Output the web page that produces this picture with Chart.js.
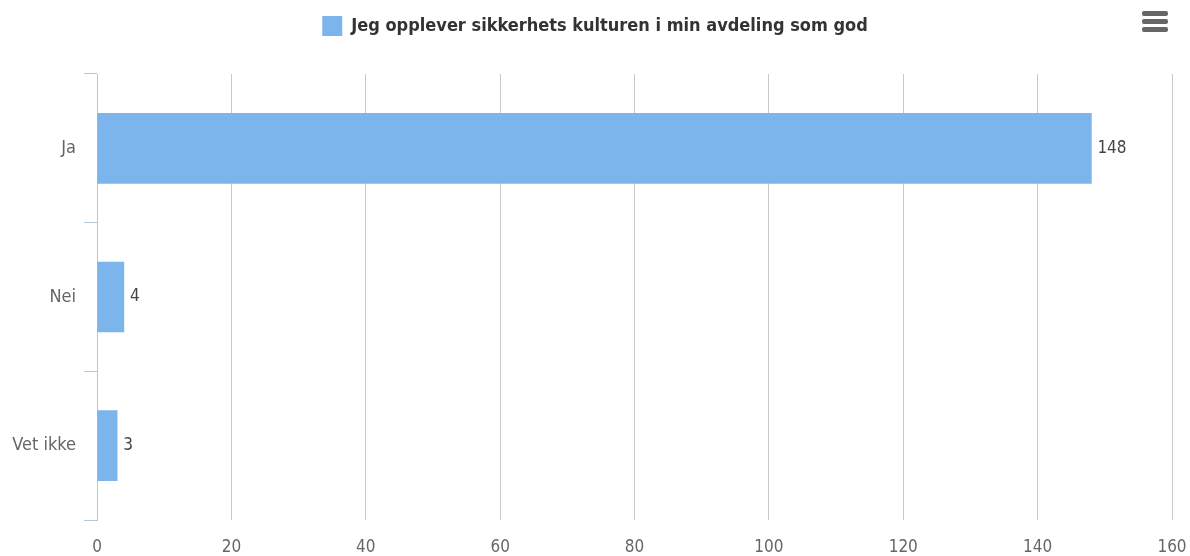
<!DOCTYPE html>
<html>
<head>
<meta charset="utf-8">
<script src="https://cdn.jsdelivr.net/npm/chart.js@4/dist/chart.umd.min.js"></script>
<style>
  html, body { margin: 0; padding: 0; background: #fff; }
  #wrap { position: relative; width: 1190px; height: 556px; }
  #menu { position: absolute; left: 1142px; top: 11px; width: 26px; }
  #menu span { display: block; height: 5px; margin-bottom: 3px; background: #666; border-radius: 2px; }
</style>
</head>
<body>
<div id="wrap">
  <canvas id="surveyChart" width="1190" height="556"></canvas>
  <div id="menu"><span></span><span></span><span></span></div>
</div>
<script>
const categories = ['Ja', 'Nei', 'Vet ikke'];
const answers = [148, 4, 3];
const seriesName = 'Jeg opplever sikkerhets kulturen i min avdeling som god';
const xTicks = [0, 20, 40, 60, 80, 100, 120, 140, 160];

const FONT = '"DejaVu Sans Condensed", "Liberation Sans Narrow", "DejaVu Sans", sans-serif';

// writes each bar's value just past its end
const valueLabels = {
    id: 'valueLabels',
    afterDatasetsDraw(chart) {
        const ctx = chart.ctx;
        const meta = chart.getDatasetMeta(0);
        ctx.save();
        ctx.font = '17px ' + FONT;
        ctx.fillStyle = '#444';
        ctx.textBaseline = 'middle';
        meta.data.forEach((bar, i) => {
            ctx.fillText(String(answers[i]), bar.x + 6, bar.y);
        });
        ctx.restore();
    }
};

// extra room under the legend
const legendGap = {
    id: 'legendGap',
    beforeInit(chart) {
        const fit = chart.legend.fit;
        chart.legend.fit = function () {
            fit.call(this);
            this.height += 28;
        };
    }
};

const ctx = document.getElementById('surveyChart').getContext('2d');
new Chart(ctx, {
    type: 'bar',
    data: {
        labels: categories,
        datasets: [{
            label: seriesName,
            data: answers,
            backgroundColor: '#7cb5ec',
            borderWidth: 0,
            barThickness: 70
        }]
    },
    options: {
        indexAxis: 'y',
        responsive: false,
        animation: false,
        layout: { padding: { right: 0, left: 0, bottom: 0, top: 2 } },
        plugins: {
            legend: {
                labels: {
                    boxWidth: 20,
                    boxHeight: 20,
                    padding: 14,
                    color: '#333',
                    font: { family: FONT, size: 18, weight: 'bold' }
                }
            },
            tooltip: { enabled: false }
        },
        scales: {
            x: {
                min: 0,
                max: 160,
                afterBuildTicks: scale => { scale.ticks = xTicks.map(v => ({ value: v })); },
                afterFit: scale => { scale.height = 36; scale.paddingRight = 18; },
                grid: { color: '#c8c8c8', drawTicks: false },
                border: { display: false },
                ticks: { color: '#666', padding: 17, font: { family: FONT, size: 17 } }
            },
            y: {
                afterFit: scale => { scale.width = 97; },
                grid: { drawOnChartArea: false, color: '#b8c6dd', tickLength: 13 },
                border: { color: '#b8c6dd' },
                ticks: { color: '#666', padding: 8, font: { family: FONT, size: 18 } }
            }
        }
    },
    plugins: [valueLabels, legendGap]
});
</script>
</body>
</html>
